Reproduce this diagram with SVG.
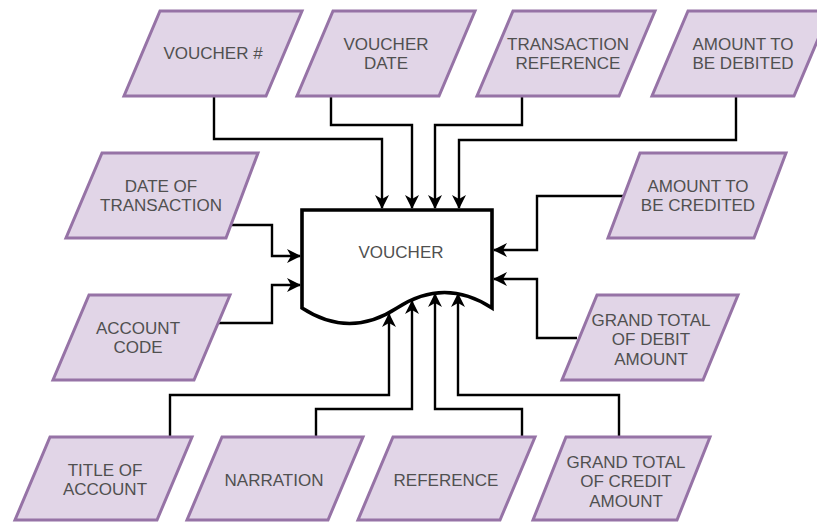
<svg xmlns="http://www.w3.org/2000/svg" width="817" height="522" viewBox="0 0 817 522">
  <style>
    .io { fill: #e1d5e7; stroke: #9673a6; stroke-width: 3; stroke-linejoin: miter; }
    .lbl { font-family: "Liberation Sans", Arial, sans-serif; font-size: 17px; fill: #505050; text-anchor: middle; dominant-baseline: central; }
    .edge { fill: none; stroke: #000000; stroke-width: 2.4; marker-end: url(#arrow); }
    .doc { fill: #ffffff; stroke: #000000; stroke-width: 3.6; }
  </style>
  <defs>
    <marker id="arrow" viewBox="0 0 14 14" refX="13" refY="7" markerWidth="14" markerHeight="14" markerUnits="userSpaceOnUse" orient="auto">
      <path d="M0,0 L14,7 L0,14 L4,7 Z" fill="#000000"/>
    </marker>
  </defs>
  <rect width="817" height="522" fill="#ffffff"/>

  <!-- connectors -->
  <g id="connectors">
    <path class="edge" d="M214,96 V139 H382 V208"/>
    <path class="edge" d="M331,96 V125 H412 V208"/>
    <path class="edge" d="M522,96 V125 H435 V208"/>
    <path class="edge" d="M736,96 V140 H459 V208"/>
    <path class="edge" d="M228,225 H272 V256 H300"/>
    <path class="edge" d="M218,323 H272 V285 H300"/>
    <path class="edge" d="M625,196 H537 V250 H494"/>
    <path class="edge" d="M577,338 H537 V279 H494"/>
    <path class="edge" d="M170,437 V395 H389 V314"/>
    <path class="edge" d="M316,437 V409 H412 V301"/>
    <path class="edge" d="M522,437 V409 H435 V294"/>
    <path class="edge" d="M619,437 V395 H458 V294"/>
  </g>

  <!-- central document -->
  <g id="voucher">
    <path class="doc" d="M302,210 H492 V308 Q444.5,277 397,308 Q349.5,339 302,308 Z"/>
    <text class="lbl" x="401" y="252">VOUCHER</text>
  </g>

  <!-- top row inputs -->
  <g id="voucher-no">
    <polygon class="io" points="160,11 302,11 266,96 124,96"/>
    <text class="lbl" x="213" y="53">VOUCHER #</text>
  </g>
  <g id="voucher-date">
    <polygon class="io" points="333,11 475,11 439,96 297,96"/>
    <text class="lbl" x="386" y="44">VOUCHER</text>
    <text class="lbl" x="386" y="63.5">DATE</text>
  </g>
  <g id="transaction-reference">
    <polygon class="io" points="513,11 655,11 619,96 477,96"/>
    <text class="lbl" x="568" y="44">TRANSACTION</text>
    <text class="lbl" x="568" y="63.5">REFERENCE</text>
  </g>
  <g id="amount-debited">
    <polygon class="io" points="688,11 830,11 794,96 652,96"/>
    <text class="lbl" x="743" y="44">AMOUNT TO</text>
    <text class="lbl" x="743" y="63.5">BE DEBITED</text>
  </g>

  <!-- left inputs -->
  <g id="date-of-transaction">
    <polygon class="io" points="102,153 258,153 226,238 66,238"/>
    <text class="lbl" x="161" y="186">DATE OF</text>
    <text class="lbl" x="161" y="205.5">TRANSACTION</text>
  </g>
  <g id="account-code">
    <polygon class="io" points="89,295 230,295 194,380 53,380"/>
    <text class="lbl" x="138" y="328">ACCOUNT</text>
    <text class="lbl" x="138" y="347.5">CODE</text>
  </g>

  <!-- right inputs -->
  <g id="amount-credited">
    <polygon class="io" points="640,153 786,153 754,238 608,238"/>
    <text class="lbl" x="698" y="186">AMOUNT TO</text>
    <text class="lbl" x="698" y="205.5">BE CREDITED</text>
  </g>
  <g id="grand-total-debit">
    <polygon class="io" points="597,295 738,295 703,380 562,380"/>
    <text class="lbl" x="651" y="320">GRAND TOTAL</text>
    <text class="lbl" x="651" y="339.5">OF DEBIT</text>
    <text class="lbl" x="651" y="359">AMOUNT</text>
  </g>

  <!-- bottom row inputs -->
  <g id="title-of-account">
    <polygon class="io" points="50,437 192,437 157,520 15,520"/>
    <text class="lbl" x="105" y="470">TITLE OF</text>
    <text class="lbl" x="105" y="489.5">ACCOUNT</text>
  </g>
  <g id="narration">
    <polygon class="io" points="222,437 363,437 328,520 187,520"/>
    <text class="lbl" x="274" y="480">NARRATION</text>
  </g>
  <g id="reference">
    <polygon class="io" points="393,437 535,437 500,520 358,520"/>
    <text class="lbl" x="446" y="480">REFERENCE</text>
  </g>
  <g id="grand-total-credit">
    <polygon class="io" points="566,437 710,437 677,520 533,520"/>
    <text class="lbl" x="626" y="462">GRAND TOTAL</text>
    <text class="lbl" x="626" y="481.5">OF CREDIT</text>
    <text class="lbl" x="626" y="501">AMOUNT</text>
  </g>
</svg>
